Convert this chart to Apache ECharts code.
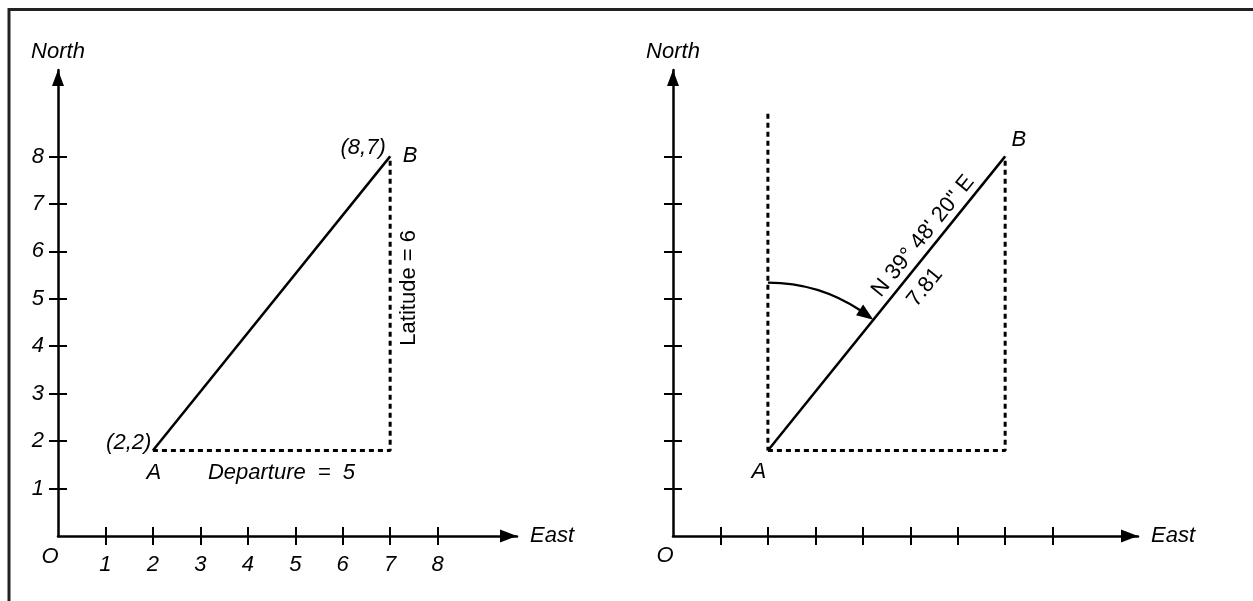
<!DOCTYPE html>
<html>
<head>
<meta charset="utf-8">
<script src="https://cdn.jsdelivr.net/npm/echarts@6/dist/echarts.min.js"></script>
<style>
html,body{margin:0;padding:0;background:#fff;}
#chart{width:1253px;height:601px;}
</style>
</head>
<body>
<div id="chart"></div>
<script>
// ---- data ----
const xTickValues = [1, 2, 3, 4, 5, 6, 7, 8];
const yTickValues = [1, 2, 3, 4, 5, 6, 7, 8];
const pointA = [2, 1.8];
const pointB = [7, 8];
const cornerC = [7, 1.8];
const meridianTop = [2, 8.9];
const arcRadius = 3.54;
const leftTexts = ['(2,2)', 'A', 'Departure = 5', '(8,7)', 'B', 'Latitude = 6', 'O'];
const rightTexts = ['A', 'B', 'N 39° 48\' 20" E', '7.81', 'O'];
const axisNames = ['North', 'East'];

// ---- layout ----
const UNIT = 47.45;
const Y0 = 536, TOPY = 70;
const panels = [{x0: 58, tip: 517}, {x0: 673, tip: 1138}];
const FONT = 'Liberation Sans, Arial, sans-serif';
const txt = {color: '#000', fontFamily: FONT, fontSize: 22, fontStyle: 'italic'};

const grids = panels.map(p => ({left: p.x0, top: TOPY, width: p.tip - p.x0, height: Y0 - TOPY, containLabel: false}));

function mainX(i, labels) {
  const p = panels[i];
  return {
    type: 'value', gridIndex: i, position: 'bottom', min: 0, max: (p.tip - p.x0) / UNIT,
    name: axisNames[1], nameLocation: 'end', nameGap: 13,
    nameTextStyle: Object.assign({}, txt, {align: 'left', verticalAlign: 'middle'}),
    axisLine: {show: true, onZero: false, symbol: ['none', 'triangle'], symbolSize: [13, 17], symbolOffset: [0, -8.5],
      lineStyle: {color: '#000', width: 2.5}},
    axisTick: {show: true, inside: false, length: 9, customValues: xTickValues, lineStyle: {color: '#000', width: 2}},
    axisLabel: {show: labels, margin: 18, customValues: xTickValues, formatter: v => String(v), color: '#000', fontFamily: FONT, fontSize: 22, fontStyle: 'italic'},
    splitLine: {show: false}
  };
}
function innerX(i) {
  const p = panels[i];
  return {
    type: 'value', gridIndex: i, position: 'bottom', min: 0, max: (p.tip - p.x0) / UNIT,
    axisLine: {show: false, onZero: false},
    axisTick: {show: true, inside: true, length: 9, customValues: xTickValues, lineStyle: {color: '#000', width: 2}},
    axisLabel: {show: false}, splitLine: {show: false}
  };
}
function mainY(i, labels) {
  return {
    type: 'value', gridIndex: i, position: 'left', min: 0, max: (Y0 - TOPY) / UNIT,
    name: axisNames[0], nameLocation: 'end', nameGap: 18,
    nameTextStyle: Object.assign({}, txt, {align: 'center', verticalAlign: 'middle'}),
    axisLine: {show: true, onZero: false, symbol: ['none', 'triangle'], symbolSize: [12, 16], symbolOffset: [0, -8],
      lineStyle: {color: '#000', width: 2.5}},
    axisTick: {show: true, inside: false, length: 9, customValues: yTickValues, lineStyle: {color: '#000', width: 2}},
    axisLabel: {show: labels, margin: 14, customValues: yTickValues, formatter: v => String(v), color: '#000', fontFamily: FONT, fontSize: 22, fontStyle: 'italic'},
    splitLine: {show: false}
  };
}
function innerY(i) {
  return {
    type: 'value', gridIndex: i, position: 'left', min: 0, max: (Y0 - TOPY) / UNIT,
    axisLine: {show: false, onZero: false},
    axisTick: {show: true, inside: true, length: 9, customValues: yTickValues, lineStyle: {color: '#000', width: 2}},
    axisLabel: {show: false}, splitLine: {show: false}
  };
}

const solid = {color: '#000', width: 2.5};
const dashed = {color: '#000', width: 3, type: [5, 4]};

function lineSeries(idx, pts, style) {
  return {type: 'line', xAxisIndex: idx, yAxisIndex: idx, data: pts, symbol: 'none', silent: true,
    lineStyle: style, clip: false, animation: false};
}
function textSeries(idx, items) {
  return {
    type: 'scatter', xAxisIndex: idx, yAxisIndex: idx, symbolSize: 0, silent: true, clip: false, animation: false,
    itemStyle: {opacity: 1, color: '#000'},
    data: items.map(it => ({
      value: it.at,
      label: Object.assign({show: true, position: 'inside', formatter: it.text, rotate: it.rotate || 0,
        align: 'center', verticalAlign: 'middle', opacity: 1, textBorderWidth: 0}, txt, it.style || {})
    }))
  };
}

const leftAnchors = [[1.49, 1.96], [2.02, 1.33], [4.71, 1.33], [6.43, 8.17], [7.42, 8.01], [7.40, 5.23], [-0.17, -0.44]];
const leftRot = [0, 0, 0, 0, 0, 90, 0];
const leftItems = leftTexts.map((t, k) => ({text: t, at: leftAnchors[k], rotate: leftRot[k],
  style: k === 5 ? {fontStyle: 'normal'} : (k === 2 ? {formatter: 'Departure {e|=} 5', rich: {e: Object.assign({}, txt, {padding: [0, 6]})}} : {})}));

const rightAnchors = [[1.81, 1.35], [7.29, 8.35], [5.27, 6.32], [5.31, 5.24], [-0.17, -0.42]];
const rightRot = [0, 0, 51, 51, 0];
const rightItems = rightTexts.map((t, k) => ({text: t, at: rightAnchors[k], rotate: rightRot[k],
  style: (k === 2 || k === 3) ? {fontStyle: 'normal'} : {}}));

const arcSeries = {
  type: 'custom', xAxisIndex: 1, yAxisIndex: 1, silent: true, clip: false, animation: false,
  data: [[pointA[0], pointA[1], arcRadius]],
  encode: {x: 0, y: 1},
  renderItem: function (params, api) {
    const c = api.coord([api.value(0), api.value(1)]);
    const b = api.coord(pointB);
    const r = api.size([0, api.value(2)])[1];
    const tipA = Math.atan2(b[1] - c[1], b[0] - c[0]);
    const len = 17, w = 13;
    const baseA = tipA - len / r;
    const tip = [c[0] + r * Math.cos(tipA), c[1] + r * Math.sin(tipA)];
    const bc = [c[0] + r * Math.cos(baseA), c[1] + r * Math.sin(baseA)];
    const rd = [Math.cos(baseA), Math.sin(baseA)];
    return {
      type: 'group', children: [
        {type: 'arc', shape: {cx: c[0], cy: c[1], r: r, startAngle: -Math.PI / 2, endAngle: baseA + 0.01, clockwise: true},
          style: {stroke: '#000', lineWidth: 2.4, fill: null}},
        {type: 'polygon', shape: {points: [tip, [bc[0] + rd[0] * w / 2, bc[1] + rd[1] * w / 2], [bc[0] - rd[0] * w / 2, bc[1] - rd[1] * w / 2]]},
          style: {fill: '#000'}}
      ]
    };
  }
};

const option = {
  animation: false,
  backgroundColor: '#fff',
  grid: grids,
  xAxis: [mainX(0, true), mainX(1, false), innerX(0), innerX(1)],
  yAxis: [mainY(0, true), mainY(1, false), innerY(0), innerY(1)],
  graphic: [
    {type: 'line', shape: {x1: 8, y1: 9.5, x2: 1253, y2: 9.5}, style: {stroke: '#222', lineWidth: 3}, silent: true},
    {type: 'line', shape: {x1: 9, y1: 8, x2: 9, y2: 601}, style: {stroke: '#222', lineWidth: 3}, silent: true}
  ],
  series: [
    lineSeries(0, [pointA, pointB], solid),
    lineSeries(0, [pointA, cornerC, pointB], dashed),
    textSeries(0, leftItems),
    lineSeries(1, [meridianTop, pointA], dashed),
    lineSeries(1, [pointA, cornerC, pointB], dashed),
    lineSeries(1, [pointA, pointB], solid),
    arcSeries,
    textSeries(1, rightItems)
  ]
};

const chart = echarts.init(document.getElementById('chart'), null, {renderer: 'canvas'});
chart.setOption(option);
</script>
</body>
</html>
